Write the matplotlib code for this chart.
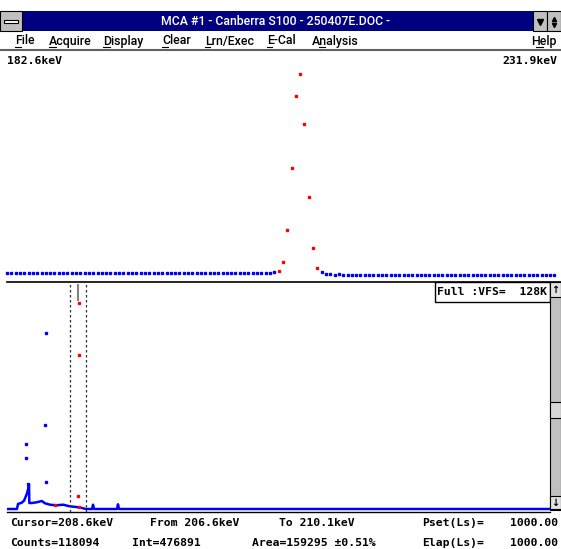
import numpy as np
import matplotlib
matplotlib.use("Agg")
import matplotlib.pyplot as plt
from matplotlib.patches import Rectangle

W, H = 561, 549

# expanded view (top): 128 channels, 182.6 - 231.9 keV
top_e0, top_de = 182.6, 0.385
top_left = [4790, 4760, 4790, 4790, 4760, 4790, 4790, 4760, 4790, 4790,
            4790, 4760, 4790, 4790, 4760, 4790, 4790, 4760, 4790, 4790,
            4760, 4790, 4790, 4760, 4790, 4790, 4760, 4790, 4790, 4760,
            4790, 4790, 4760, 4790, 4790, 4760, 4790, 4760, 4790, 4790,
            4760, 4790, 4790, 4760, 4790, 4790, 4760, 4790, 4790, 4760,
            4790, 4790, 4760, 4790, 4790, 4760, 4790, 4790, 4760, 4790,
            4790, 4760, 4960]
top_roi = [5876, 11011, 28924, 64638, 105370, 118094, 89397, 47751, 18655, 7245]
top_right = [4960, 4165, 4165, 3420, 4165, 3420, 3420, 3700, 3700, 3700,
             3700, 3700, 3700, 3700, 3700, 3700, 3700, 3700, 3700, 3700,
             3700, 3700, 3700, 3700, 3700, 3700, 3700, 3700, 3700, 3700,
             3700, 3700, 3700, 3700, 3700, 3700, 3700, 3700, 3700, 3700,
             3700, 3700, 3700, 3700, 3700, 3700, 3700, 3700, 3700, 3700,
             3700, 3700, 3700, 3700, 3700]

# full spectrum (bottom), keV vs counts, VFS = 128K
full_kev = [0, 26, 29.1, 35.0, 40.1, 46.9, 52.0, 55.8, 59.7, 61.8, 62.7, 69.8,
            84.6, 99.5, 109.3, 124.1, 142.0, 163.6, 178.5, 193.3, 210.3, 231.1,
            249, 251.9, 255, 323, 326.1, 329, 1609]
full_cnt = [577, 577, 3464, 3869, 4215, 5370, 7679, 9642, 12530, 14608, 4042, 4042,
            4446, 5197, 3869, 3060, 2714, 3060, 2310, 1905, 1559, 577,
            577, 3060, 577, 577, 3291, 577, 577]
full_pts_kev = [112.3, 110.2, 53.8, 53.8, 112.3, 59.7]
full_pts_cnt = [102374, 48906, 37935, 29852, 16340, 14839]
roi_pts_kev = [209.4, 210.3, 206.4, 139.0, 210.3]
roi_pts_cnt = [119500, 89323, 8257, 2887, 1559]
cursor_kev = 208.6
roi_from, roi_to = 182.6, 231.9

menu = ["File", "Acquire", "Display", "Clear", "Lrn/Exec", "E-Cal", "Analysis"]
menu_x = [15, 49, 103, 162, 205, 267, 312]
menu_ul = [(15, 21), (49, 56), (103, 110), (162, 168), (205, 210), (267, 272), (319, 325)]

status_row1 = [("Cursor=208.6keV", 10), ("From 206.6keV", 150), ("To 210.1keV", 279), ("Pset(Ls)=", 422)]
status_row2 = [("Counts=118094", 10), ("Int=476891", 132), ("Area=159295 \u00b10.51%", 252), ("Elap(Ls)=", 422)]

BLUE = "#0000ff"
RED = "#ff0000"
NAVY = "#000080"
GRAY = "#c0c0c0"
mono = dict(family="DejaVu Sans Mono", fontweight="bold", fontsize=8.2, color="black")


def px_axes(x0, y0, x1, y1):
    return fig.add_axes([x0 / W, 1 - y1 / H, (x1 - x0) / W, (y1 - y0) / H])


fig = plt.figure(figsize=(W / 100, H / 100), dpi=100)
fig.patch.set_facecolor("white")

bg = fig.add_axes([0, 0, 1, 1])
bg.set_xlim(0, W)
bg.set_ylim(H, 0)
bg.axis("off")

# title bar
bg.add_patch(Rectangle((0, 11), 533, 20, fc=NAVY, ec="none"))
bg.add_patch(Rectangle((0, 11), 22, 20, fc=GRAY, ec="black", lw=0.8))
bg.add_patch(Rectangle((4, 19.5), 14, 3.5, fc="white", ec="black", lw=0.8))
bg.add_patch(Rectangle((533, 11), 14, 20, fc=GRAY, ec="black", lw=0.8))
bg.add_patch(Rectangle((547, 11), 14, 20, fc=GRAY, ec="black", lw=0.8))
bg.plot([540], [21.5], marker="v", ms=4, color="black")
bg.plot([554], [18.5], marker="^", ms=3, color="black")
bg.plot([554], [24.5], marker="v", ms=3, color="black")
bg.text(276, 21.5, "MCA #1 - Canberra S100 - 250407E.DOC -", color="white",
        family="Roboto", fontweight="medium", fontsize=8.8, ha="center", va="center")

# menu bar
for name, x in zip(menu, menu_x):
    bg.text(x, 41, name, family="Roboto", fontweight="medium", fontsize=8.9,
            ha="left", va="center")
bg.text(557, 41, "Help", family="Roboto", fontweight="medium", fontsize=8.9,
        ha="right", va="center")
for a, b in menu_ul + [(536, 543)]:
    bg.plot([a, b], [47, 47], color="black", lw=0.8)
bg.plot([0, W], [49.5, 49.5], color="#606060", lw=1.5)

bg.text(7, 61.5, "182.6keV", ha="left", va="center", **mono)
bg.text(557, 61.5, "231.9keV", ha="right", va="center", **mono)

# top: expanded region
top = px_axes(0, 62, W, 281)
n_left, n_roi = len(top_left), len(top_roi)
ch = np.arange(n_left + n_roi + len(top_right))
kev = top_e0 + ch * top_de
top.plot(kev[:n_left], top_left, ls="none", marker="s", ms=2.0, color=BLUE)
top.plot(kev[n_left:n_left + n_roi], top_roi, ls="none", marker="s", ms=2.0, color=RED)
top.plot(kev[n_left + n_roi:], top_right, ls="none", marker="s", ms=2.0, color=BLUE)
top.set_xlim(181.97, 232.08)
top.set_ylim(0, 124940)
top.axis("off")

bg.plot([7, W], [281.7, 281.7], color="black", lw=1.2)

# bottom: full spectrum
bot = px_axes(0, 283, 550, 512)
bot.set_facecolor("none")
bot.plot(full_kev, full_cnt, color=BLUE, lw=1.8)
bot.plot(full_pts_kev, full_pts_cnt, ls="none", marker="s", ms=1.8, color=BLUE)
bot.plot(roi_pts_kev, roi_pts_cnt, ls="none", marker="s", ms=1.8, color=RED)
bot.vlines(cursor_kev, 120500, 130500, color="#808080", lw=1.5)
bot.axvline(roi_from, color="#303030", lw=0.9, ls=(0, (2, 2)))
bot.axvline(roi_to, color="#303030", lw=0.9, ls=(0, (2, 2)))
bot.set_xlim(-24.4, 1609.2)
bot.set_ylim(-1155, 131072)
bot.axis("off")

bg.plot([7, 550], [512, 512], color="black", lw=1.0)

# VFS box
bg.add_patch(Rectangle((435, 282), 115, 19.5, fc="white", ec="black", lw=1.0))
bg.text(437, 292, "Full :VFS=  128K", ha="left", va="center", **mono)

# scrollbar
bg.add_patch(Rectangle((550, 282), 11, 228, fc=GRAY, ec="black", lw=0.8))
bg.add_patch(Rectangle((550, 282), 11, 15, fc="#e0e0e0", ec="black", lw=0.8))
bg.add_patch(Rectangle((550, 402), 11, 16, fc="#d8d8d8", ec="black", lw=0.8))
bg.add_patch(Rectangle((550, 496), 11, 13, fc="#e0e0e0", ec="black", lw=0.8))
bg.text(555.5, 290, "\u2191", ha="center", va="center", fontsize=7, fontweight="bold")
bg.text(555.5, 502.5, "\u2193", ha="center", va="center", fontsize=7, fontweight="bold")

# status lines
for (s, x) in status_row1:
    bg.text(x, 523, s, ha="left", va="center", **mono)
for (s, x) in status_row2:
    bg.text(x, 543, s, ha="left", va="center", **mono)
bg.text(558, 523, "1000.00", ha="right", va="center", **mono)
bg.text(558, 543, "1000.00", ha="right", va="center", **mono)

fig.savefig("out.png", dpi=100)
